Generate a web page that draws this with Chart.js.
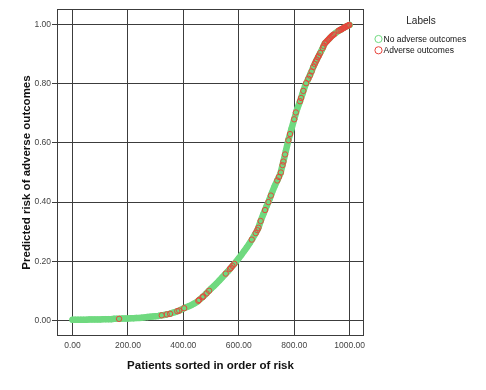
<!DOCTYPE html>
<html>
<head>
<meta charset="utf-8">
<title>Predicted risk of adverse outcomes</title>
<script src="https://cdn.jsdelivr.net/npm/chart.js@4.4.0/dist/chart.umd.min.js"></script>
<style>
  html, body { margin: 0; padding: 0; background: #fff; }
  #wrap { width: 486px; height: 390px; }
</style>
</head>
<body>
<div id="wrap"><canvas id="risk-chart" width="486" height="390"></canvas></div>
<script>
// Patients sorted by predicted risk; green band = no adverse outcome, red = adverse outcome.

const seriesLabels = ['No adverse outcomes', 'Adverse outcomes'];
const xTicks = [0, 200, 400, 600, 800, 1000];
const yTicks = [0, 0.2, 0.4, 0.6, 0.8, 1.0];

// sampled positions along the green band (every 10 patients)
const noEventPatient = [
  0, 10, 20, 30, 40, 50, 60, 70, 80, 90,
  100, 110, 120, 130, 140, 150, 160, 170, 180, 190,
  200, 210, 220, 230, 240, 250, 260, 270, 280, 290,
  300, 310, 320, 330, 340, 350, 360, 370, 380, 390,
  400, 410, 420, 430, 440, 450, 460, 470, 480, 490,
  500, 510, 520, 530, 540, 550, 560, 570, 580, 590,
  600, 610, 620, 630, 640, 650, 660, 670, 680, 690,
  700, 710, 720, 730, 740, 750, 760, 770, 780, 790,
  800, 810, 820, 830, 840, 850, 860, 870, 880, 890,
  900, 910, 920, 930, 940, 950, 960, 970, 980, 990, 1000
];
const noEventRisk = [
  0.002, 0.002, 0.002, 0.002, 0.002, 0.002, 0.003, 0.003, 0.003, 0.003,
  0.003, 0.004, 0.004, 0.004, 0.004, 0.005, 0.005, 0.005, 0.006, 0.006,
  0.006, 0.007, 0.007, 0.008, 0.008, 0.009, 0.010, 0.011, 0.012, 0.013,
  0.014, 0.015, 0.017, 0.018, 0.020, 0.022, 0.025, 0.028, 0.031, 0.035,
  0.040, 0.044, 0.048, 0.052, 0.057, 0.063, 0.071, 0.079, 0.088, 0.098,
  0.107, 0.116, 0.125, 0.135, 0.145, 0.155, 0.165, 0.176, 0.187, 0.198,
  0.210, 0.222, 0.235, 0.248, 0.262, 0.277, 0.293, 0.311, 0.338, 0.362,
  0.385, 0.407, 0.432, 0.455, 0.475, 0.495, 0.533, 0.573, 0.613, 0.647,
  0.680, 0.713, 0.738, 0.766, 0.795, 0.815, 0.836, 0.859, 0.879, 0.897,
  0.915, 0.936, 0.946, 0.956, 0.965, 0.972, 0.979, 0.984, 0.990, 0.995, 0.999
];

const eventPatient = [
  168, 322, 340, 352, 378, 385, 403, 454, 457, 469,
  472, 484, 493, 553, 568, 572, 577, 584, 647, 661,
  667, 671, 679, 695, 707, 716, 739, 745, 752, 758,
  761, 767, 779, 785, 800, 806, 821, 825, 833, 843,
  851, 857, 863, 869, 874, 878, 882, 886, 889, 894,
  903, 906, 911, 914, 918, 922, 925, 929, 933, 936,
  940, 944, 960, 963, 967, 970, 973, 977, 980, 983,
  986, 990, 993, 996, 999
];
const eventRisk = [
  0.005, 0.017, 0.020, 0.022, 0.031, 0.033, 0.041, 0.066, 0.069, 0.078,
  0.081, 0.091, 0.100, 0.158, 0.174, 0.178, 0.184, 0.191, 0.273, 0.295,
  0.305, 0.313, 0.336, 0.373, 0.400, 0.422, 0.473, 0.485, 0.500, 0.525,
  0.537, 0.561, 0.609, 0.630, 0.680, 0.703, 0.741, 0.752, 0.776, 0.802,
  0.817, 0.828, 0.842, 0.857, 0.867, 0.875, 0.882, 0.890, 0.895, 0.904,
  0.921, 0.928, 0.937, 0.940, 0.944, 0.948, 0.951, 0.955, 0.959, 0.962,
  0.965, 0.967, 0.979, 0.981, 0.983, 0.984, 0.986, 0.988, 0.990, 0.991,
  0.993, 0.995, 0.996, 0.998, 0.999
];

const GREEN = '#6fd97f';
const RED = '#e8453c';
const GRID = '#3c3c3c';
const FONT = "'Liberation Sans', Arial, sans-serif";

function toPoints(xs, ys){
  return xs.map((x, i) => ({ x, y: ys[i] }));
}

// full box around the plot area (SPSS style)
const frame = {
  id: 'frame',
  beforeDatasetsDraw(chart){
    const { ctx, chartArea: a } = chart;
    const l = Math.round(a.left) + 0.5, t = Math.round(a.top) + 0.5;
    const r = Math.round(a.right) - 0.5, b = Math.round(a.bottom) - 0.5;
    ctx.save();
    ctx.strokeStyle = GRID;
    ctx.lineWidth = 1;
    ctx.strokeRect(l, t, r - l, b - t);
    ctx.restore();
  }
};

// legend block on the right: "Labels" + two hollow circle markers
const sideLegend = {
  id: 'sideLegend',
  afterDraw(chart){
    const { ctx } = chart;
    ctx.save();
    ctx.fillStyle = '#222';
    ctx.font = '10px ' + FONT;
    ctx.textAlign = 'center';
    ctx.textBaseline = 'middle';
    ctx.fillText('Labels', 421, 21);
    const colors = [GREEN, RED];
    seriesLabels.forEach((lab, i) => {
      const y = 39 + i * 11.3;
      ctx.beginPath();
      ctx.arc(378.5, y, 3.6, 0, Math.PI * 2);
      ctx.strokeStyle = colors[i];
      ctx.lineWidth = 1;
      ctx.stroke();
      ctx.fillStyle = '#111';
      ctx.font = '8.5px ' + FONT;
      ctx.textAlign = 'left';
      ctx.fillText(lab, 383.5, y + 0.5);
    });
    ctx.restore();
  }
};

const ctx = document.getElementById('risk-chart').getContext('2d');
new Chart(ctx, {
  type: 'scatter',
  data: {
    datasets: [
      {
        label: seriesLabels[1],
        data: toPoints(eventPatient, eventRisk),
        borderColor: RED,
        backgroundColor: 'rgba(0,0,0,0)',
        pointRadius: 2.7,
        pointBorderWidth: 1,
        showLine: false
      },
      {
        label: seriesLabels[0],
        data: toPoints(noEventPatient, noEventRisk),
        borderColor: GREEN,
        backgroundColor: 'rgba(0,0,0,0)',
        pointBorderColor: GREEN,
        pointRadius: 2.7,
        pointBorderWidth: 1,
        showLine: true,
        borderWidth: 6.5,
        borderCapStyle: 'round',
        borderJoinStyle: 'round'
      }
    ]
  },
  options: {
    responsive: false,
    animation: false,
    devicePixelRatio: 1,
    layout: { padding: { left: 0, right: 122, top: 9, bottom: 0 } },
    plugins: {
      legend: { display: false },
      tooltip: { enabled: false }
    },
    scales: {
      x: {
        type: 'linear',
        min: -56,
        max: 1052,
        afterBuildTicks: s => { s.ticks = xTicks.map(v => ({ value: v })); },
        afterFit: s => { s.height = 54; },
        ticks: {
          callback: v => Number(v).toFixed(2),
          color: '#444',
          font: { family: FONT, size: 8.5 },
          padding: 5,
          maxRotation: 0
        },
        grid: { color: GRID, lineWidth: 1, drawTicks: false },
        border: { display: false },
        title: {
          display: true,
          text: 'Patients sorted in order of risk',
          color: '#111',
          font: { family: FONT, size: 11.5, weight: 'bold' },
          padding: { top: 0, bottom: 17.4 }
        }
      },
      y: {
        type: 'linear',
        min: -0.053,
        max: 1.053,
        afterBuildTicks: s => { s.ticks = yTicks.map(v => ({ value: v })); },
        afterFit: s => { s.width = 57; },
        ticks: {
          callback: v => Number(v).toFixed(2),
          color: '#444',
          font: { family: FONT, size: 8.5 },
          padding: 1
        },
        grid: { color: GRID, lineWidth: 1, drawTicks: true, tickLength: 5 },
        border: { display: false },
        title: {
          display: true,
          text: 'Predicted risk of adverse outcomes',
          color: '#111',
          font: { family: FONT, size: 11.5, weight: 'bold' },
          padding: { top: 20.1, bottom: 0 }
        }
      }
    }
  },
  plugins: [frame, sideLegend]
});
</script>
</body>
</html>
